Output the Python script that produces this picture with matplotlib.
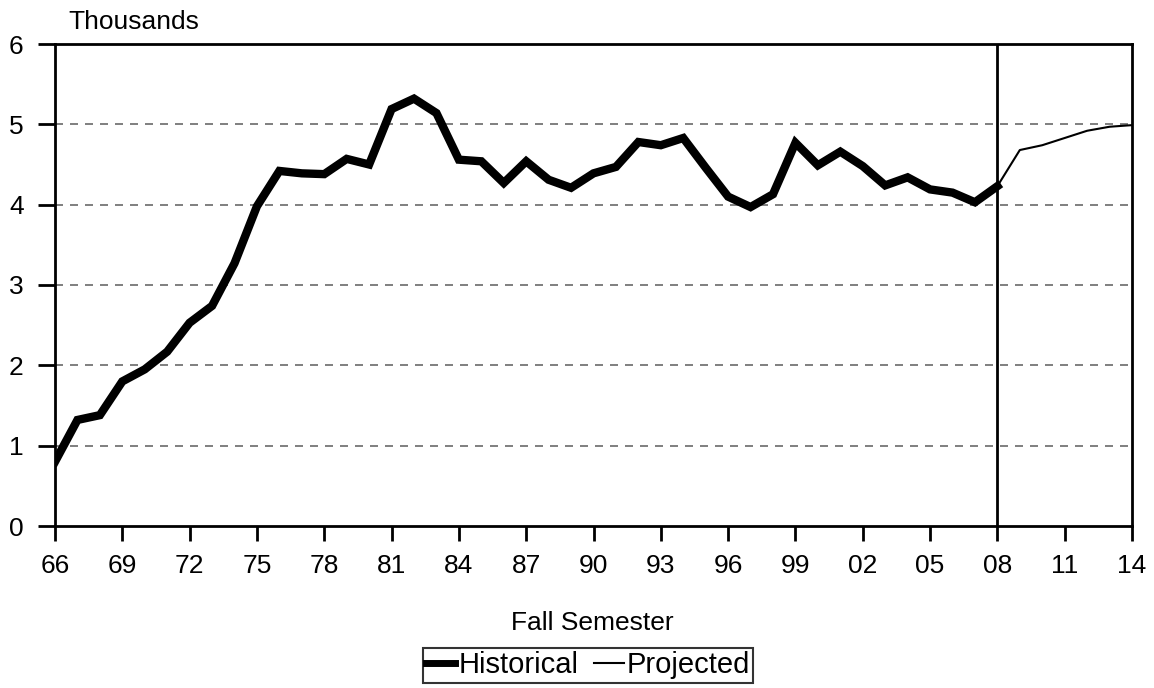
import matplotlib
matplotlib.use("Agg")
import matplotlib.pyplot as plt

plt.rcParams['font.family'] = ['Liberation Sans', 'DejaVu Sans']

hist_years = list(range(1966, 2009))
hist_values = [0.80, 1.32, 1.38, 1.80, 1.95, 2.17, 2.53, 2.74, 3.27, 3.98,
               4.42, 4.39, 4.38, 4.57, 4.50, 5.19, 5.32, 5.14, 4.56, 4.54,
               4.27, 4.54, 4.31, 4.21, 4.39, 4.47, 4.78, 4.74, 4.83, 4.46,
               4.10, 3.97, 4.13, 4.77, 4.49, 4.66, 4.48, 4.24, 4.34, 4.19,
               4.15, 4.03, 4.23]
proj_years = list(range(2008, 2015))
proj_values = [4.23, 4.68, 4.74, 4.83, 4.92, 4.97, 4.99]

tick_years = list(range(1966, 2015, 3))
tick_labels = [f"{y % 100:02d}" for y in tick_years]
y_ticks = [0, 1, 2, 3, 4, 5, 6]
grid_levels = [1, 2, 3, 4, 5]

fig = plt.figure(figsize=(11.54, 6.88), dpi=100)
ax = fig.add_axes([55/1154, 1-526/688, (1132-55)/1154, (526-44)/688])

for g in grid_levels:
    ax.axhline(g, color='#6a6a6a', lw=1.2, dashes=(4.8, 4.2), zorder=1)

ax.plot(hist_years, hist_values, color='black', lw=6, solid_joinstyle='miter',
        label='Historical', zorder=3)
ax.plot(proj_years, proj_values, color='black', lw=1.5, label='Projected', zorder=3)
ax.axvline(2008, color='black', lw=2, zorder=2)

ax.set_xlim(1966, 2014)
ax.set_ylim(0, 6)
ax.set_xticks(tick_years)
ax.set_xticklabels(tick_labels)
ax.set_yticks(y_ticks)
ax.tick_params(axis='x', direction='out', length=11, width=2, pad=9, labelsize=19)
ax.tick_params(axis='y', direction='out', length=12.5, width=2, pad=10, labelsize=19)
for s in ax.spines.values():
    s.set_linewidth(2)
    s.set_color('black')

fig.text(68/1154, 1-22/688, 'Thousands', fontsize=19, va='center', ha='left')
fig.text(592/1154, 1-623/688, 'Fall Semester', fontsize=19, va='center', ha='center')

h, l = ax.get_legend_handles_labels()
leg = fig.legend(h, l, loc='center', bbox_to_anchor=(588/1154, 1-665/688), ncol=2,
                 fontsize=21, frameon=True, fancybox=False, edgecolor='black',
                 handlelength=1.0, handletextpad=0.1, columnspacing=0.55,
                 borderpad=0.12, borderaxespad=0)
leg.get_frame().set_linewidth(1.5)
leg.get_lines()[0].set_linewidth(5)

fig.savefig('out.png', dpi=100, facecolor='white')
